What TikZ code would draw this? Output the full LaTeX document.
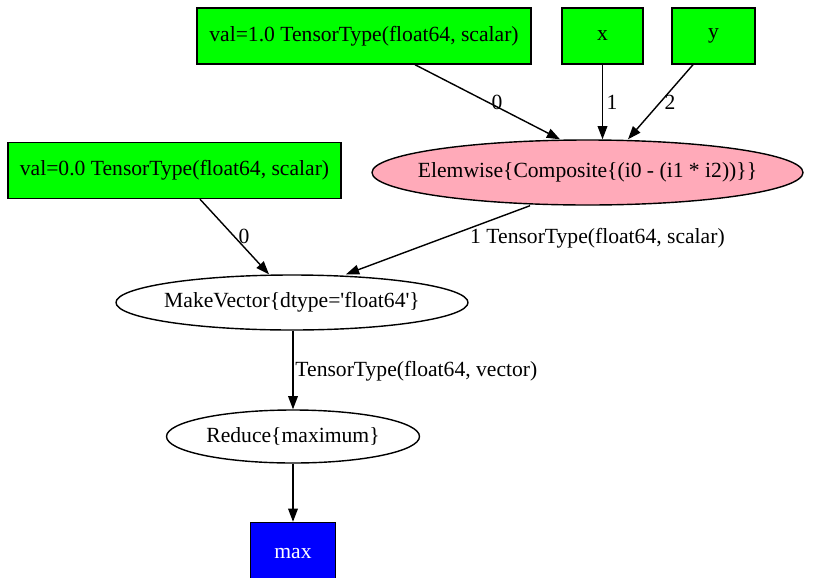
\documentclass[tikz,border=0pt]{standalone}
\usepackage{fontspec}
\setmainfont{Liberation Serif}
\usetikzlibrary{shapes,arrows.meta}
\definecolor{constgreen}{RGB}{0,255,0}
\definecolor{oppink}{RGB}{255,170,185}
\definecolor{outblue}{RGB}{0,0,255}
\begin{document}
\begin{tikzpicture}[%
    >={Triangle[length=7.5pt, width=5.5pt]}, % graphviz-like filled heads
    every node/.style={font=\fontsize{12.3}{14}\selectfont},
    ]
% -------------------------------------------------
% Box styles
\tikzset{
  base/.style={draw, thick, inner sep=0pt, align=center},
  inbox/.style={base, rectangle, fill=constgreen, minimum height=1.12cm},
  opnode/.style={base, ellipse, inner xsep=-0.4cm},
  outbox/.style={base, rectangle, fill=outblue, text=white,
    minimum width=1.7cm, minimum height=1.5cm},
  % connector style
  link/.style={->, draw, thick},
  lbl/.style={inner sep=2pt}
}
\useasboundingbox (0,0) rectangle (16.54,-11.54);
% -------------------------------------------------
% Inputs along the top
\node [inbox, minimum width=6.68cm] (v1) at (7.28,-0.72)
  {val=1.0 TensorType(float64, scalar)};
\node [inbox, minimum width=1.62cm] (x) at (12.05,-0.72) {x};
\node [inbox, minimum width=1.66cm] (y) at (14.27,-0.72) {y};
% Elemwise op and second constant
\node [opnode, fill=oppink, minimum width=8.62cm, minimum height=1.3cm]
  (elem) at (11.75,-3.45) {Elemwise\{Composite\{(i0 - (i1 * i2))\}\}};
\node [inbox, minimum width=6.66cm] (v0) at (3.49,-3.41)
  {val=0.0 TensorType(float64, scalar)};
% Lower chain
\node [opnode, minimum width=7.04cm, minimum height=1.1cm] (mkvec)
  at (5.84,-6.05) {MakeVector\{dtype=\textquotesingle float64\textquotesingle\}};
\node [opnode, minimum width=5.06cm, minimum height=1.06cm] (reduce)
  at (5.86,-8.73) {Reduce\{maximum\}};
\node [outbox] (maxout) at (5.86,-11.2) {\raisebox{0.25cm}{max}};

% -------------------------------------------------
% Connectors
\draw [link] ([xshift=1.02cm]v1.south) -- node [lbl, pos=.5, right] {0}
  ([xshift=-0.55cm]elem.north);
\draw [link] (x.south) -- node [lbl, pos=.5, right] {1}
  ([xshift=0.3cm]elem.north);
\draw [link] ([xshift=-0.41cm]y.south) -- node [lbl, pos=.5, right] {2}
  ([xshift=0.81cm]elem.north);
\draw [link] ([xshift=0.51cm]v0.south) -- node [lbl, pos=.5, right] {0}
  ([xshift=-0.46cm]mkvec.north);
\draw [link] ([xshift=-1.15cm]elem.south) -- node [lbl, pos=.47, right=0.45cm]
  {1 TensorType(float64, scalar)} ([xshift=1.08cm]mkvec.north);
\draw [link] (mkvec.south -| reduce.north) -- node [lbl, pos=.52, right, inner sep=1pt]
  {TensorType(float64, vector)} (reduce.north);
\draw [link] (reduce.south) -- (maxout.north);

% -------------------------------------------------
\end{tikzpicture}
\end{document}
